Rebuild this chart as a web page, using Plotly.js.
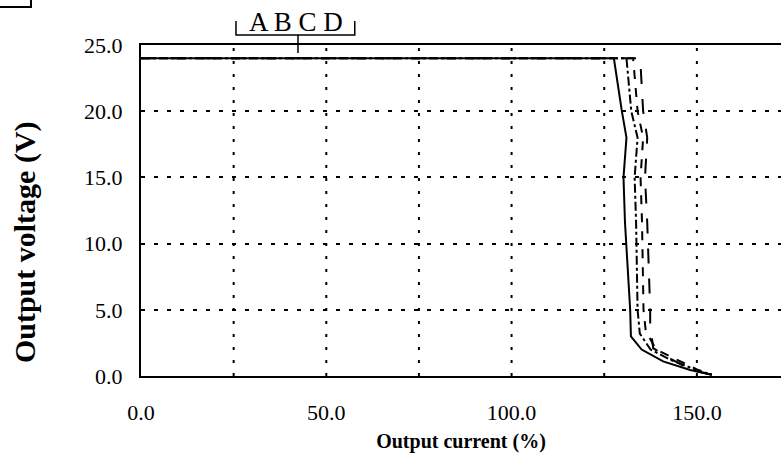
<!DOCTYPE html>
<html>
<head>
<meta charset="utf-8">
<script src="https://cdn.plot.ly/plotly-3.0.1.min.js"></script>
<style>
  html, body { margin: 0; padding: 0; background: #fff; overflow: hidden; }
  #chart { width: 781px; height: 473px; }
</style>
</head>
<body>
<div id="chart"></div>
<script>
// Output voltage vs. output current (overcurrent fold-back), four units A-D
const curveNames = ['A', 'B', 'C', 'D'];
const currentA = [0, 127.6, 129.7, 131.0, 130.2, 130.6, 132.0, 132.2, 135.1, 140.9, 148.2, 154.0];
const voltageA = [24, 24, 20.1, 18.0, 15.0, 11.6, 5.0, 3.0, 2.0, 1.1, 0.45, 0.1];
const currentB = [0, 131.0, 132.3, 134.0, 133.2, 133.6, 134.0, 134.6, 137.5, 143.0, 149.5, 154.0];
const voltageB = [24, 24, 20.0, 18.0, 15.0, 11.6, 5.0, 3.2, 2.0, 1.2, 0.5, 0.1];
const currentC = [0, 132.8, 134.0, 135.5, 134.8, 135.2, 135.6, 136.2, 139.0, 144.0, 150.0, 154.0];
const voltageC = [24, 24, 20.0, 18.0, 15.0, 11.6, 5.0, 3.4, 2.0, 1.3, 0.5, 0.1];
const currentD = [0, 134.7, 135.5, 136.6, 136.0, 136.6, 137.4, 137.4, 138.2, 142.2, 148.2, 154.0];
const voltageD = [24, 24, 20.0, 18.0, 15.0, 11.6, 5.0, 4.0, 2.1, 1.4, 0.5, 0.1];

const xTickVals = [0, 50, 100, 150];
const xTickText = ['0.0', '50.0', '100.0', '150.0'];
const yTickVals = [0, 5, 10, 15, 20, 25];
const yTickText = ['0.0', '5.0', '10.0', '15.0', '20.0', '25.0'];
const xTitle = 'Output current (%)';
const yTitle = 'Output voltage (V)';

const serif = '"Liberation Serif", "Times New Roman", serif';
const series = [
  [currentA, voltageA, 'solid'],
  [currentB, voltageB, 'dashdot'],
  [currentC, voltageC, 'dash'],
  [currentD, voltageD, 'longdash']
];

const traces = series.map((s, i) => ({
  type: 'scatter',
  mode: 'lines',
  name: curveNames[i],
  x: s[0],
  y: s[1],
  line: { color: '#000', width: 2, dash: s[2] },
  hoverinfo: 'skip'
}));

// vertical dotted guides every 25 %
const gridX = [25, 50, 75, 100, 125, 150];
const gridShapes = gridX.map(v => ({
  type: 'line', xref: 'x', yref: 'y', x0: v, x1: v, y0: 0, y1: 25,
  line: { color: '#000', width: 2, dash: '3px,10px' }, layer: 'below'
}));

const labelShapes = [
  // bracket grouping the curve labels
  { type: 'path', xref: 'paper', yref: 'paper',
    path: 'M 0.1484 1.0725 L 0.1484 1.030 L 0.334 1.030 L 0.334 1.0725',
    line: { color: '#000', width: 1.5 } },
  // pointer from the bracket to the rated-voltage level
  { type: 'line', xref: 'paper', yref: 'paper',
    x0: 0.2453, x1: 0.2453, y0: 1.030, y1: 0.976,
    line: { color: '#000', width: 1.5 } },
  // corner mark in the top-left
  { type: 'path', xref: 'paper', yref: 'paper',
    path: 'M -0.23 1.1148 L -0.1719 1.1148 L -0.1719 1.14',
    line: { color: '#000', width: 2 } }
];

const layout = {
  width: 781,
  height: 473,
  margin: { l: 141, r: 0, t: 45, b: 97 },
  paper_bgcolor: '#fff',
  plot_bgcolor: '#fff',
  showlegend: false,
  font: { family: serif, color: '#000', size: 22 },
  xaxis: {
    range: [0, 172.7],
    tickvals: xTickVals,
    ticktext: xTickText,
    ticks: '',
    ticklabelstandoff: 16,
    showgrid: false,
    zeroline: false,
    showline: true,
    mirror: true,
    linecolor: '#000',
    linewidth: 2,
    tickfont: { family: serif, size: 22, color: '#000' },
    title: { text: xTitle, standoff: 10,
             font: { family: serif, size: 20, color: '#000', weight: 'bold' } }
  },
  yaxis: {
    range: [0, 25],
    tickvals: yTickVals,
    ticktext: yTickText,
    ticks: '',
    ticklabelstandoff: 12,
    showgrid: true,
    gridcolor: '#000',
    gridwidth: 2,
    griddash: '4px,9px',
    zeroline: false,
    showline: true,
    linecolor: '#000',
    linewidth: 2,
    tickfont: { family: serif, size: 22, color: '#000' }
  },
  shapes: gridShapes.concat(labelShapes),
  annotations: [
    {
      xref: 'paper', yref: 'paper', x: 0.242, y: 1.069,
      text: curveNames.join(' '), showarrow: false,
      font: { family: serif, size: 27, color: '#000' },
      xanchor: 'center', yanchor: 'middle'
    },
    {
      // vertical axis title, set a little below the plot's middle
      xref: 'paper', yref: 'paper', x: -0.181, y: 0.405,
      text: '<b>' + yTitle + '</b>', textangle: -90, showarrow: false,
      font: { family: serif, size: 30, color: '#000' },
      xanchor: 'center', yanchor: 'middle'
    }
  ]
};

Plotly.newPlot('chart', traces, layout, { displayModeBar: false, staticPlot: true });
</script>
</body>
</html>
